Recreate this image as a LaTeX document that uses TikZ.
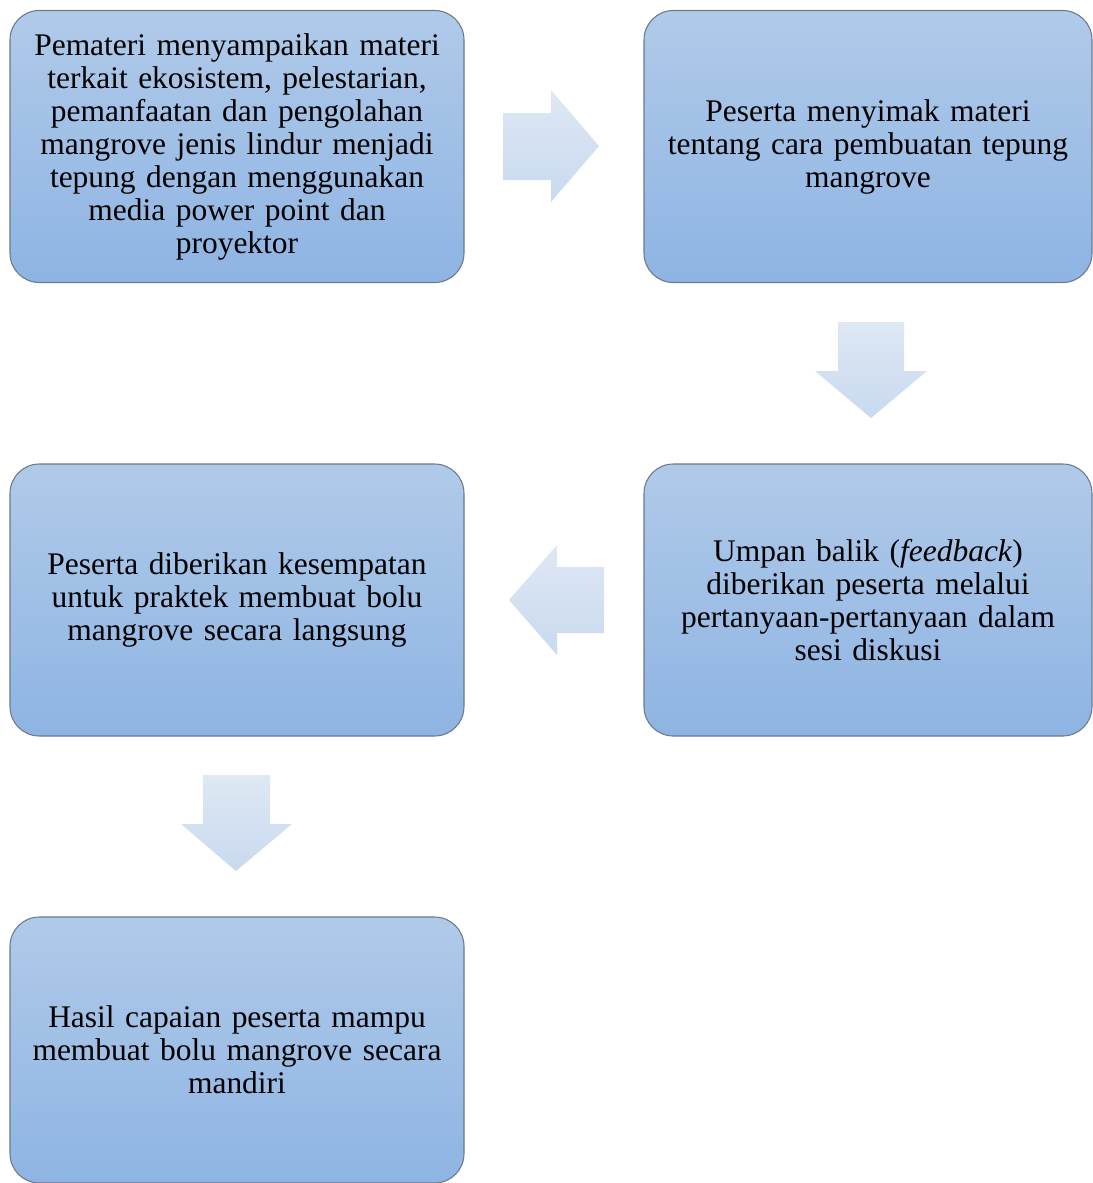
\documentclass[tikz,border=0pt]{standalone}
\usepackage{fontspec}
\setmainfont{Liberation Serif}
\definecolor{boxtop}{HTML}{B0CAE9}
\definecolor{boxbot}{HTML}{8EB4E3}
\definecolor{boxline}{HTML}{6A7A8C}
\definecolor{arrtop}{HTML}{DFE8F4}
\definecolor{arrbot}{HTML}{C8D9EF}
\tikzset{
  stepbox/.style={draw=boxline, line width=0.8pt, rounded corners=22pt,
    top color=boxtop, bottom color=boxbot, minimum width=340.5pt, minimum height=204pt,
    align=center, font=\fontsize{23.6}{24.75}\selectfont, inner sep=0pt, text width=330pt},
  flowarrow/.style={top color=arrtop, bottom color=arrbot, draw=none}
}
\begin{document}
\begin{tikzpicture}[x=0.75pt,y=-0.75pt]
\useasboundingbox (0,0) rectangle (1093,1183);
\node[stepbox] (a) at (237,146.5) {Pemateri menyampaikan materi\\terkait ekosistem, pelestarian,\\pemanfaatan dan pengolahan\\mangrove jenis lindur menjadi\\tepung dengan menggunakan\\media power point dan\\proyektor};
\node[stepbox, minimum width=336pt] (b) at (868,146.5) {Peserta menyimak materi\\tentang cara pembuatan tepung\\mangrove};
\node[stepbox, minimum width=336pt] (c) at (868,600) {Umpan balik (\textit{feedback})\\diberikan peserta melalui\\pertanyaan-pertanyaan dalam\\sesi diskusi};
\node[stepbox] (d) at (237,600) {Peserta diberikan kesempatan\\untuk praktek membuat bolu\\mangrove secara langsung};
\node[stepbox, minimum height=199.5pt] (e) at (237,1050) {Hasil capaian peserta mampu\\membuat bolu mangrove secara\\mandiri};
% arrows
\path[flowarrow] (503,113) -- (551,113) -- (551,90) -- (599,146) -- (551,202) -- (551,180) -- (503,180) -- cycle;
\path[flowarrow] (838,322) -- (904,322) -- (904,371) -- (927,371) -- (871,418) -- (815,371) -- (838,371) -- cycle;
\path[flowarrow] (604,567) -- (557,567) -- (557,545) -- (509,600) -- (557,655) -- (557,633) -- (604,633) -- cycle;
\path[flowarrow] (203,775) -- (270,775) -- (270,824) -- (292,824) -- (236,871) -- (181,824) -- (203,824) -- cycle;
\end{tikzpicture}
\end{document}
